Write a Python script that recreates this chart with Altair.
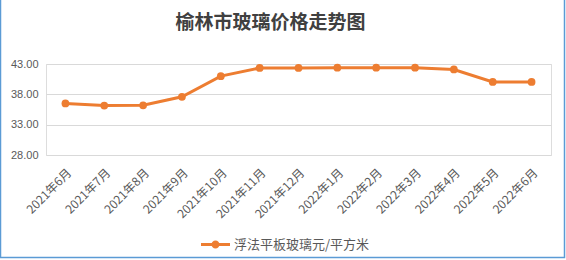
import altair as alt
import pandas as pd

months = ["2021年6月", "2021年7月", "2021年8月", "2021年9月", "2021年10月", "2021年11月",
          "2021年12月", "2022年1月", "2022年2月", "2022年3月", "2022年4月", "2022年5月", "2022年6月"]
prices = [36.5, 36.15, 36.2, 37.6, 41.0, 42.35, 42.35, 42.4, 42.4, 42.4, 42.1, 40.05, 40.05]
series_name = "浮法平板玻璃元/平方米"
title_text = "榆林市玻璃价格走势图"
y_ticks = [28, 33, 38, 43]

df = pd.DataFrame({"month": months, "price": prices, "series": [series_name] * len(months)})

ORANGE = "#ED7D31"
GREY = "#595959"
CJK = "Noto Sans CJK SC"

legend_path = ("M -1 -0.1 L 1 -0.1 L 1 0.1 L -1 0.1 Z "
               "M 0.28 0 A 0.28 0.28 0 1 1 -0.28 0 A 0.28 0.28 0 1 1 0.28 0 Z")

base = alt.Chart(df).encode(
    x=alt.X("month:N", sort=None, title=None,
            scale=alt.Scale(paddingInner=0, paddingOuter=0),
            axis=alt.Axis(labelAngle=-45, labelFont=CJK, labelFontSize=12, labelColor=GREY,
                          labelPadding=12, ticks=False, domain=False, grid=False)),
    y=alt.Y("price:Q", title=None,
            scale=alt.Scale(domain=[28, 43], nice=False, zero=False),
            axis=alt.Axis(values=y_ticks, format=".2f", labelFont="Liberation Sans",
                          labelFontSize=11, labelColor=GREY, labelPadding=8, ticks=False,
                          domain=False, gridColor="#D9D9D9", gridWidth=1)),
    color=alt.Color("series:N", scale=alt.Scale(range=[ORANGE]), title=None,
                    legend=alt.Legend(orient="none", legendX=155, legendY=166,
                                      symbolType=legend_path, symbolSize=841,
                                      symbolStrokeWidth=0, symbolFillColor=ORANGE,
                                      labelFont=CJK, labelFontSize=13, labelColor=GREY,
                                      labelOffset=4)),
)

line = base.mark_line(strokeWidth=3)
points = base.mark_point(filled=True, size=60, opacity=1)

frame = alt.Chart(pd.DataFrame({"k": [0]})).mark_rect(
    fill=None, stroke="#5B9BD5", strokeWidth=1.5, clip=False
).encode(
    x=alt.value(-45.5), x2=alt.value(518.5), y=alt.value(-66), y2=alt.value(193.5)
)

chart = alt.layer(line, points, frame).properties(
    width=505, height=91,
    padding={"left": 46, "top": 64, "right": 15, "bottom": 105},
    autosize=alt.AutoSizeParams(type="none"),
    title=alt.TitleParams(title_text, font=CJK, fontSize=19, fontWeight="bold",
                          color="#404040", anchor="middle", offset=-36, dx=-28),
).configure_view(stroke=None).configure(background="white")

chart.save("out.html", embed_options={"renderer": "svg", "actions": False})
